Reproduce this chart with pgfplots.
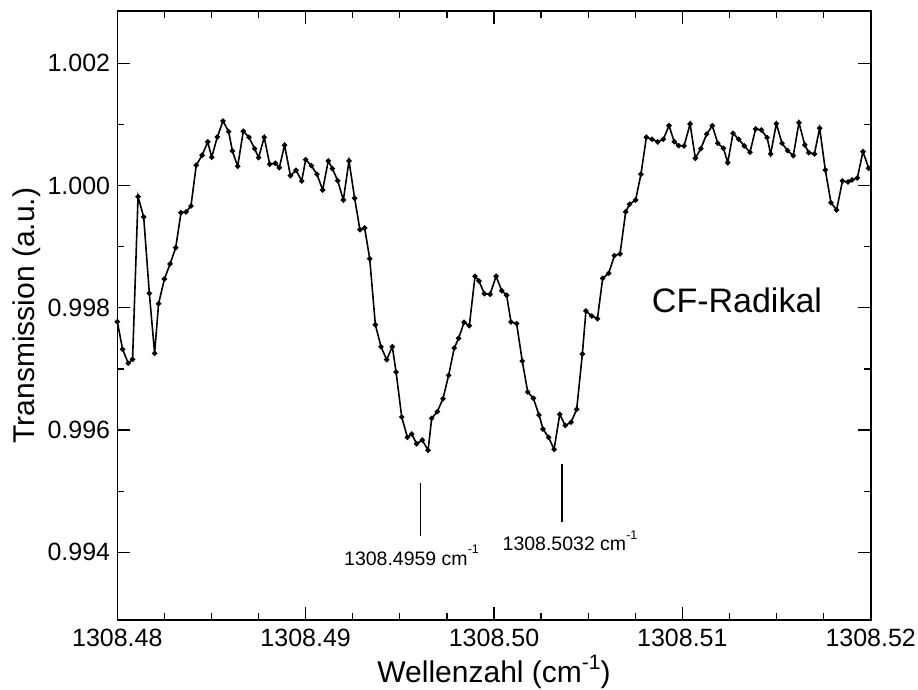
\documentclass[border=0pt]{standalone}
\usepackage{fontspec}
\setmainfont{Liberation Sans}
\usepackage{pgfplots}
\pgfplotsset{compat=1.18}
% wavenumbers are too long for the fpu: cut the leading 1308 off as text
\makeatletter
\def\wnplain1308#1\relax{0#1}
\def\wnfloat1Y1.308#1e3]\relax{0.#1}
\def\wnstrip#1{\in@{Y}{#1}\ifin@\edef\pgfmathresult{\wnfloat#1\relax}\else\edef\pgfmathresult{\wnplain#1\relax}\fi}
\makeatother
% raised "-1" exponent: #1 size, #2 raise
\newcommand{\invexp}[2]{\raisebox{#2}{\fontsize{#1}{#1}\selectfont -1}}
\begin{document}
\begin{tikzpicture}
\path[use as bounding box] (-117.33pt,-70pt) rectangle (800.67pt,620pt);
\begin{axis}[
  scale only axis,
  width=753.37pt, height=609pt,
  x coord trafo/.code={\wnstrip{#1}},
  xmin=1308.48, xmax=1308.52,
  ymin=0.992892, ymax=1.002856,
  xtick={1308.48,1308.49,1308.50,1308.51,1308.52},
  xticklabels={1308.48,1308.49,1308.50,1308.51,1308.52},
  minor x tick num=3,
  ytick={0.994,0.996,0.998,1.000,1.002},
  minor y tick num=1,
  scaled ticks=false,
  tick align=inside,
  major tick length=13pt, minor tick length=7pt,
  every tick/.style={black, line width=1.3pt},
  axis line style={line width=1.6pt},
  tick label style={font=\fontsize{25}{30}\selectfont},
  yticklabel style={anchor=east, inner sep=0pt, xshift=-7pt,
    /pgf/number format/fixed, /pgf/number format/fixed zerofill,
    /pgf/number format/precision=3, /pgf/number format/assume math mode=true},
  xticklabel style={anchor=north, inner sep=0pt, yshift=-9pt},
  label style={font=\fontsize{30}{36}\selectfont},
  xlabel={Wellenzahl (cm\invexp{21pt}{13pt})},
  ylabel={Transmission (a.u.)},
  xlabel style={at={(axis description cs:0.5,0)}, anchor=base, yshift=-63pt},
  ylabel style={at={(axis description cs:-0.1199,0.5)}, anchor=center},
  clip=false,
]
\addplot[black, line width=1.6pt, mark=*, mark size=1.8pt] table {
1308.48000 0.997772
1308.48028 0.997321
1308.48058 0.997092
1308.48081 0.997157
1308.48110 0.999818
1308.48140 0.999486
1308.48170 0.998237
1308.48198 0.997255
1308.48219 0.998067
1308.48250 0.998471
1308.48280 0.998717
1308.48310 0.998984
1308.48338 0.999556
1308.48365 0.999568
1308.48391 0.999666
1308.48419 1.000332
1308.48450 1.000496
1308.48480 1.000714
1308.48501 1.000463
1308.48531 1.000795
1308.48561 1.001057
1308.48591 1.000882
1308.48611 1.000566
1308.48639 1.000316
1308.48669 1.000889
1308.48699 1.000790
1308.48729 1.000604
1308.48750 1.000457
1308.48780 1.000790
1308.48809 1.000349
1308.48839 1.000365
1308.48860 1.000293
1308.48888 1.000660
1308.48919 1.000162
1308.48949 1.000250
1308.48979 1.000075
1308.49000 1.000424
1308.49030 1.000326
1308.49060 1.000185
1308.49090 0.999928
1308.49120 1.000403
1308.49142 1.000277
1308.49170 1.000080
1308.49200 0.999764
1308.49230 1.000403
1308.49260 0.999792
1308.49288 0.999278
1308.49313 0.999306
1308.49340 0.998804
1308.49370 0.997723
1308.49400 0.997363
1308.49430 0.997151
1308.49460 0.997363
1308.49480 0.996949
1308.49510 0.996213
1308.49540 0.995880
1308.49563 0.995935
1308.49589 0.995776
1308.49619 0.995836
1308.49650 0.995668
1308.49669 0.996191
1308.49699 0.996300
1308.49729 0.996512
1308.49759 0.996895
1308.49789 0.997342
1308.49812 0.997501
1308.49841 0.997763
1308.49869 0.997707
1308.49899 0.998516
1308.49920 0.998439
1308.49949 0.998231
1308.49979 0.998221
1308.50011 0.998516
1308.50041 0.998280
1308.50067 0.998205
1308.50090 0.997768
1308.50120 0.997740
1308.50150 0.997129
1308.50179 0.996622
1308.50209 0.996519
1308.50239 0.996246
1308.50260 0.996016
1308.50290 0.995880
1308.50319 0.995684
1308.50349 0.996259
1308.50378 0.996074
1308.50409 0.996128
1308.50439 0.996339
1308.50469 0.997244
1308.50488 0.997948
1308.50519 0.997866
1308.50549 0.997822
1308.50577 0.998483
1308.50609 0.998565
1308.50639 0.998853
1308.50669 0.998881
1308.50699 0.999568
1308.50719 0.999694
1308.50752 0.999764
1308.50780 1.000185
1308.50809 1.000790
1308.50839 1.000758
1308.50869 1.000714
1308.50899 1.000758
1308.50929 1.000980
1308.50957 1.000718
1308.50980 1.000653
1308.51009 1.000648
1308.51041 1.001008
1308.51069 1.000447
1308.51098 1.000604
1308.51129 1.000841
1308.51159 1.000979
1308.51188 1.000692
1308.51218 1.000610
1308.51241 1.000375
1308.51269 1.000856
1308.51299 1.000758
1308.51329 1.000648
1308.51359 1.000545
1308.51389 1.000926
1308.51419 1.000910
1308.51450 1.000784
1308.51469 1.000517
1308.51499 1.001013
1308.51529 1.000692
1308.51559 1.000571
1308.51589 1.000489
1308.51619 1.001029
1308.51650 1.000664
1308.51671 1.000538
1308.51701 1.000517
1308.51729 1.000938
1308.51759 1.000255
1308.51789 0.999720
1308.51819 0.999601
1308.51850 1.000075
1308.51880 1.000059
1308.51901 1.000092
1308.51929 1.000124
1308.51959 1.000555
1308.51989 1.000283
};
% line markers of the two absorption lines
\addplot[black, line width=1.8pt] table {
1308.4961 0.995128
1308.4961 0.994270
};
\addplot[black, line width=1.8pt] table {
1308.5036 0.995444
1308.5036 0.994489
};
\node[font=\fontsize{19.5}{24}\selectfont, anchor=base] at (rel axis cs:0.3905,0.0903) {1308.4959 cm\invexp{12.5pt}{11.5pt}};
\node[font=\fontsize{19.5}{24}\selectfont, anchor=base] at (rel axis cs:0.6009,0.1138) {1308.5032 cm\invexp{12.5pt}{11.5pt}};
\node[font=\fontsize{34}{40}\selectfont] at (rel axis cs:0.8225,0.5255) {CF-Radikal};
\end{axis}
\end{tikzpicture}
\end{document}
